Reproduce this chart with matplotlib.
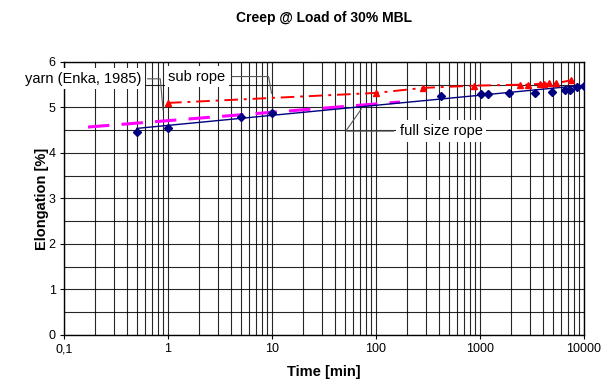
import matplotlib
matplotlib.use('Agg')
import matplotlib.pyplot as plt
from matplotlib.ticker import LogLocator, NullFormatter, MultipleLocator

# --- data ---
# full size rope (blue diamonds)
full_t = [0.5, 1, 5, 10, 420, 1020, 1190, 1900, 3380, 4920, 6560, 7330, 8510, 10000]
full_e = [4.46, 4.55, 4.79, 4.88, 5.25, 5.30, 5.30, 5.32, 5.32, 5.34, 5.38, 5.38, 5.45, 5.47]
# trend line of the full size rope
full_fit_t = [0.5, 10000]
full_fit_e = [4.54, 5.49]

# sub rope (red triangles)
sub_t = [1, 100, 283, 875, 2425, 2900, 3775, 4125, 4600, 5400, 7500]
sub_e = [5.10, 5.32, 5.43, 5.48, 5.50, 5.50, 5.52, 5.52, 5.53, 5.53, 5.60]

# yarn (Enka, 1985), magenta dashed
yarn_t = [0.17, 170]
yarn_e = [4.57, 5.12]

x_ticks = [0.1, 1, 10, 100, 1000, 10000]
x_tick_labels = ['0,1', '1', '10', '100', '1000', '10000']

plt.rcParams['font.family'] = ['Liberation Sans', 'DejaVu Sans']

fig = plt.figure(figsize=(6.16, 3.85), dpi=100)
ax = fig.add_axes([0.104, 0.130, 0.844, 0.709])

ax.set_xscale('log')
ax.set_xlim(0.1, 10000)
ax.set_ylim(0, 6)

# grid: every log minor line, every 0.5 in y
ax.xaxis.set_major_locator(LogLocator(base=10, numticks=10))
ax.xaxis.set_minor_locator(LogLocator(base=10, subs=range(2, 10), numticks=20))
ax.xaxis.set_minor_formatter(NullFormatter())
ax.yaxis.set_major_locator(MultipleLocator(1))
ax.yaxis.set_minor_locator(MultipleLocator(0.5))
ax.grid(True, which='both', axis='both', color='black', linewidth=0.8, alpha=0.85)
ax.set_axisbelow(True)

ax.set_xticks(x_ticks)
ax.set_xticklabels(x_tick_labels)
ax.tick_params(axis='both', which='major', direction='out', length=3, labelsize=9, pad=3)
ax.tick_params(axis='both', which='minor', length=0)

for s in ax.spines.values():
    s.set_linewidth(1.0)

# series
ax.plot(yarn_t, yarn_e, color='magenta', linewidth=2.2, linestyle=(0, (7, 4)), zorder=3)
ax.plot(full_fit_t, full_fit_e, color='#000080', linewidth=1.0, zorder=4)
ax.plot(full_t, full_e, linestyle='none', marker='D', markersize=4,
        color='#000080', zorder=5)
ax.plot(sub_t, sub_e, color='red', linewidth=1.4, linestyle=(0, (7, 3, 1.5, 3)),
        marker='^', markersize=5, zorder=5)

# callouts
box = dict(boxstyle='square,pad=0.25', fc='white', ec='none')
lead = dict(arrowstyle='-', color='0.35', linewidth=0.8)
ax.annotate('yarn (Enka, 1985)', xy=(0.9, 4.88), xytext=(0.55, 5.63),
            ha='right', va='center', fontsize=10.5, bbox=box, annotation_clip=False,
            arrowprops=dict(lead, connectionstyle='angle,angleA=0,angleB=95,rad=0'))
ax.annotate('sub rope', xy=(10, 5.25), xytext=(1.9, 5.68),
            ha='center', va='center', fontsize=10.5, bbox=box,
            arrowprops=dict(lead, connectionstyle='angle,angleA=0,angleB=100,rad=0'))
ax.annotate('full size rope', xy=(75, 5.02), xytext=(170, 4.48),
            ha='left', va='center', fontsize=10.5, bbox=box,
            arrowprops=dict(lead, connectionstyle='angle,angleA=0,angleB=55,rad=0'))

ax.set_title('Creep @ Load of 30% MBL', fontsize=10, fontweight='bold', pad=29)
ax.set_xlabel('Time [min]', fontsize=10.5, fontweight='bold', labelpad=7)
ax.set_ylabel('Elongation [%]', fontsize=10.5, fontweight='bold', labelpad=0)

fig.savefig('out.png', dpi=100)
